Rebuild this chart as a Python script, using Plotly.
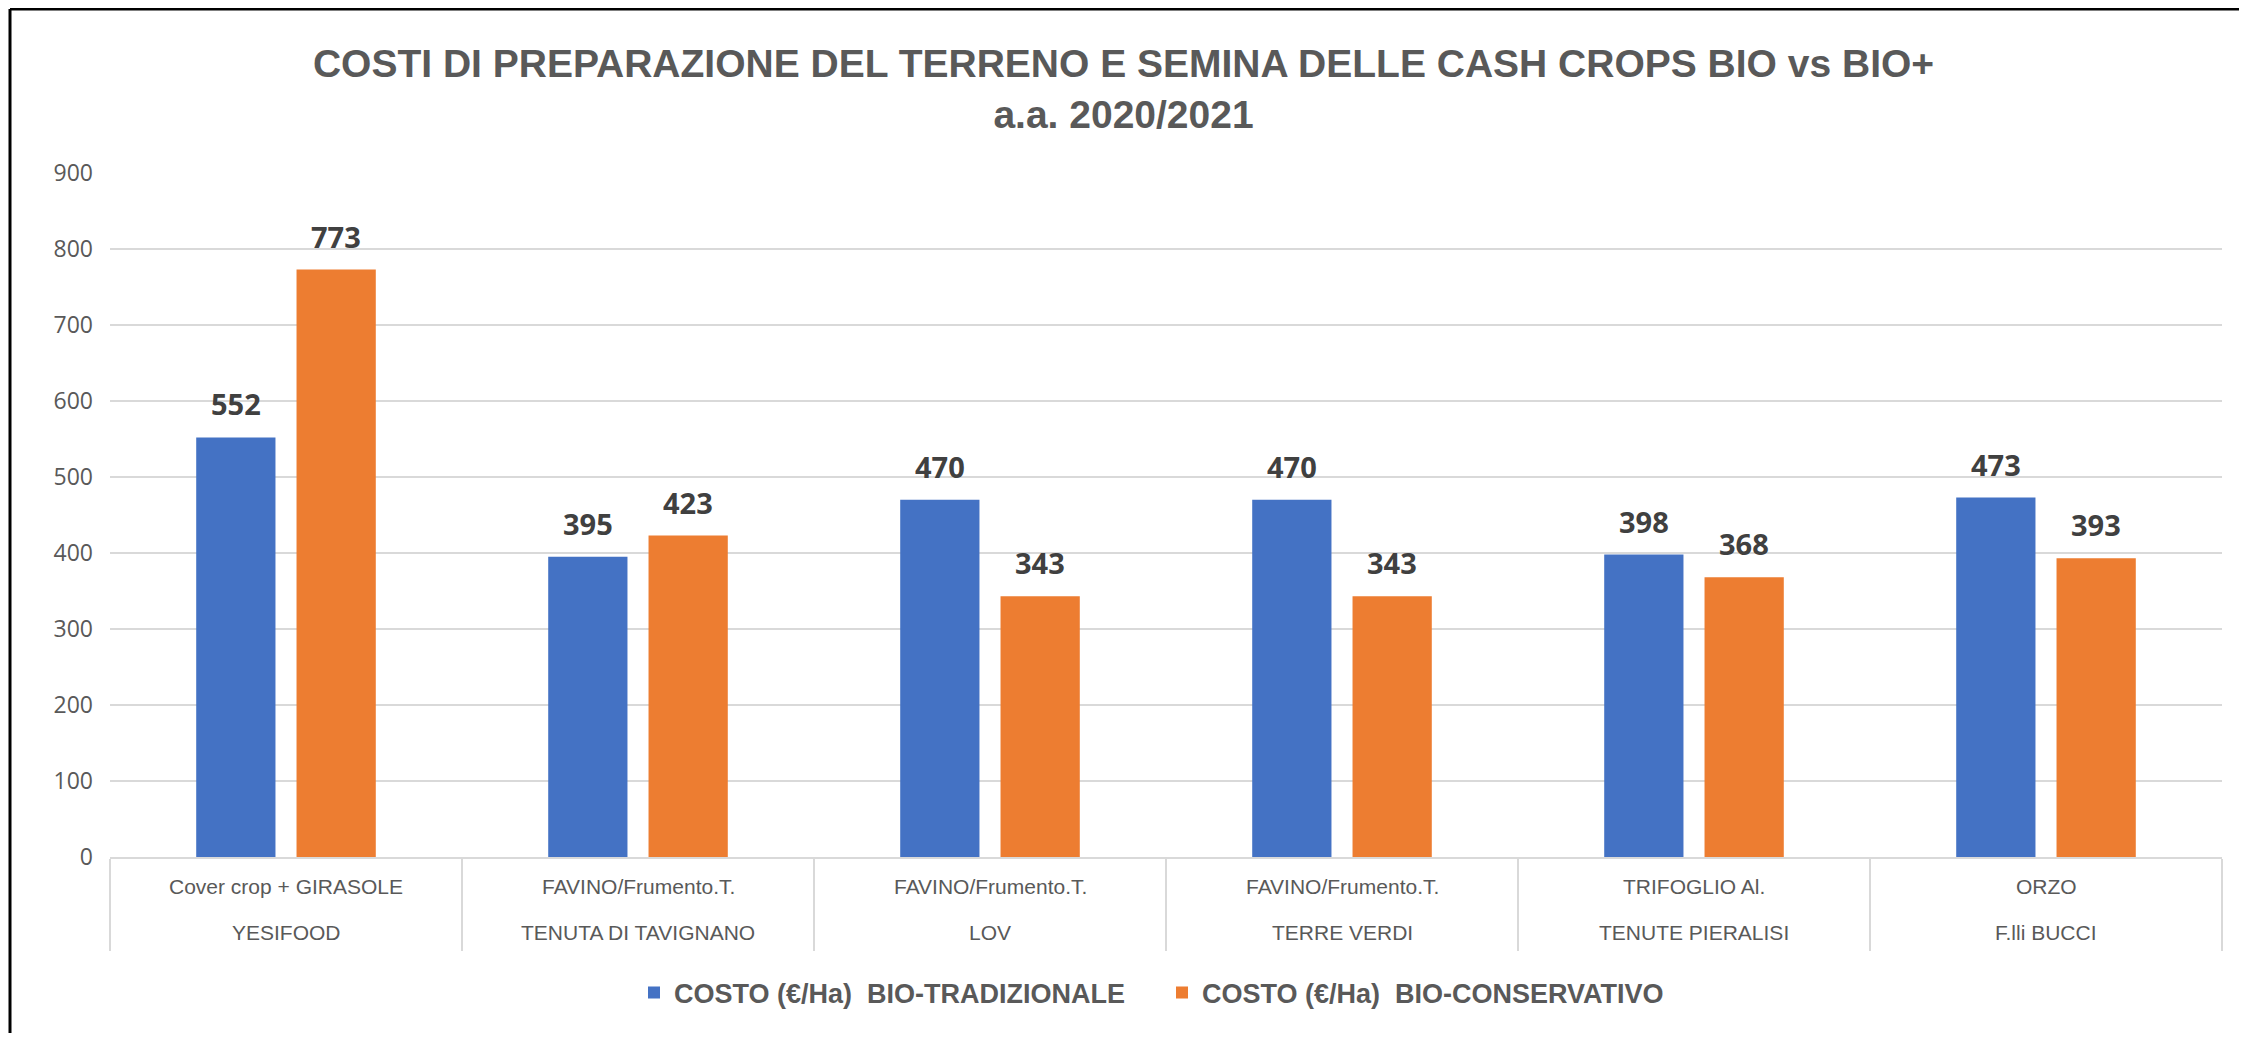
import plotly.graph_objects as go

companies = ["YESIFOOD", "TENUTA DI TAVIGNANO", "LOV", "TERRE VERDI", "TENUTE PIERALISI", "F.lli BUCCI"]
crops = ["Cover crop + GIRASOLE", "FAVINO/Frumento.T.", "FAVINO/Frumento.T.", "FAVINO/Frumento.T.", "TRIFOGLIO Al.", "ORZO"]
bio_trad = [552, 395, 470, 470, 398, 473]
bio_cons = [773, 423, 343, 343, 368, 393]
series_names = ["COSTO (€/Ha)\u00a0\u00a0BIO-TRADIZIONALE", "COSTO (€/Ha)\u00a0\u00a0BIO-CONSERVATIVO"]
colors = ["#4472C4", "#ED7D31"]
y_ticks = [0, 100, 200, 300, 400, 500, 600, 700, 800, 900]

NARROW = "Liberation Sans Narrow, Liberation Sans, Arial Narrow, sans-serif"
# the page body adds an 8px margin; figure coordinates are page coordinates minus 8
W, H = 2231, 1025
ML, MR, MT, MB = 102, 17, 165, 176
pw, ph = W - ML - MR, H - MT - MB

fig = go.Figure()
for name, vals, col in zip(series_names, [bio_trad, bio_cons], colors):
    fig.add_trace(go.Bar(x=companies, y=vals, name=name, marker=dict(color=col, line=dict(width=0))))

annotations = []
# data labels
offsets = [-50, 50]
for vals, off in zip([bio_trad, bio_cons], offsets):
    for c, v in zip(companies, vals):
        annotations.append(dict(x=c, y=v, xref="x", yref="y", text=f"<b>{v}</b>", showarrow=False,
                                xshift=off, yshift=12, yanchor="bottom",
                                font=dict(family="Open Sans", size=29, color="#404040")))
# category labels (two rows)
for c, cr in zip(companies, crops):
    annotations.append(dict(x=c, y=0, xref="x", yref="paper", text=cr, showarrow=False,
                            yanchor="middle", yshift=-29,
                            font=dict(family=NARROW, size=21, color="#595959")))
    annotations.append(dict(x=c, y=0, xref="x", yref="paper", text=c, showarrow=False,
                            yanchor="middle", yshift=-75,
                            font=dict(family=NARROW, size=21, color="#595959")))

# outer frame (top and left edges of the original picture)
x_left = (2 - ML) / pw
x_right = (W - ML) / pw
y_top = (H - MB - 1) / ph
y_bot = (H - MB - H) / ph
shapes = [
    dict(type="line", xref="paper", yref="paper", x0=x_left, x1=x_right, y0=y_top, y1=y_top,
         line=dict(color="black", width=3)),
    dict(type="line", xref="paper", yref="paper", x0=x_left, x1=x_left, y0=y_top, y1=y_bot,
         line=dict(color="black", width=3)),
]

fig.update_layout(
    width=W, height=H,
    margin=dict(l=ML, r=MR, t=MT, b=MB),
    paper_bgcolor="white", plot_bgcolor="white",
    barmode="group", bargap=0.43, bargroupgap=0.21,
    title=dict(text="<b>COSTI DI PREPARAZIONE DEL TERRENO E SEMINA DELLE CASH CROPS BIO vs BIO+<br>a.a. 2020/2021</b>",
               x=0.5, xanchor="center", xref="container", y=1 - 69 / H, yanchor="middle", yref="container",
               font=dict(family=NARROW, size=39, color="#595959")),
    xaxis=dict(type="category", showticklabels=False, ticks="outside", tickson="boundaries",
               ticklen=92, tickcolor="#d9d9d9", tickwidth=2, showgrid=False,
               showline=True, linecolor="#d9d9d9", linewidth=2, zeroline=False),
    yaxis=dict(range=[0, 900], tickvals=y_ticks, showgrid=True, gridcolor="#d9d9d9", gridwidth=2,
               zeroline=False, showline=False, ticks="", ticklabelstandoff=16,
               tickfont=dict(family="Open Sans", size=23, color="#595959")),
    legend=dict(orientation="h", x=0.5 - 4 / pw, xanchor="center", y=(H - MB - 985) / ph, yanchor="middle",
                font=dict(family=NARROW, size=27, color="#595959", weight="bold"),
                traceorder="normal", entrywidth=483, entrywidthmode="pixels"),
    annotations=annotations,
    shapes=shapes,
)

fig.write_html("out.html")
